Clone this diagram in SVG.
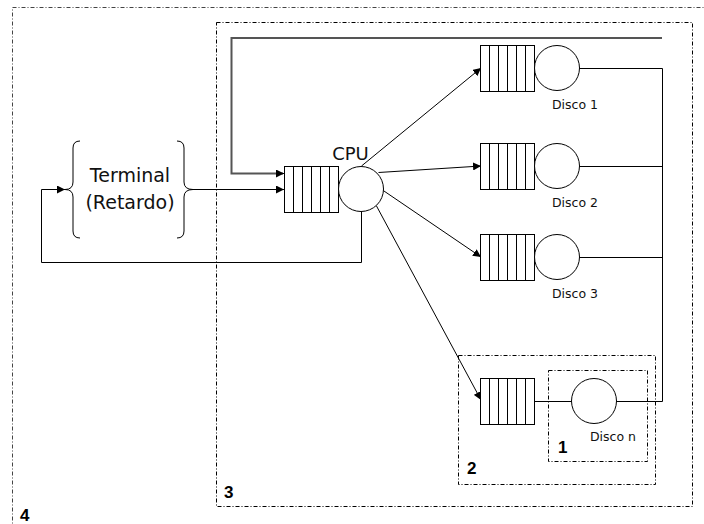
<svg xmlns="http://www.w3.org/2000/svg" width="704" height="524" viewBox="0 0 704 524">
<defs>
<marker id="arr" viewBox="0 0 10 10" refX="10" refY="5" markerWidth="8" markerHeight="8" markerUnits="userSpaceOnUse" orient="auto">
<path d="M0,0 L10,5 L0,10 z" fill="#000"/>
</marker>
<g id="q">
<rect x="0" y="0" width="54" height="46" fill="#fff" stroke="#000" stroke-width="1"/>
<path d="M9,0V46M18,0V46M27,0V46M36,0V46M45,0V46" stroke="#000" stroke-width="1" fill="none"/>
</g>
</defs>
<style>
.box{fill:none;stroke:#000;stroke-width:1;stroke-dasharray:4 2 1 2}
.box4{fill:none;stroke:#444;stroke-width:1;stroke-dasharray:4 2 1 2}
.ln{fill:none;stroke:#000;stroke-width:1}
.srv{fill:#fff;stroke:#000;stroke-width:1}
.t{font-family:"DejaVu Sans",Verdana,sans-serif;fill:#111}
.num{font-family:"Liberation Sans",Arial,sans-serif;font-weight:bold;font-size:17px;fill:#000}
</style>
<rect width="704" height="524" fill="#fff"/>

<g id="box4"><rect class="box4" x="12.5" y="7.5" width="720" height="540"/><text class="num" x="20" y="521">4</text></g>
<g id="box3"><rect class="box" x="216.5" y="22.5" width="476" height="484"/><text class="num" x="224" y="498">3</text></g>
<g id="box2"><rect class="box" x="458.5" y="355.5" width="197" height="129"/><text class="num" x="467" y="474">2</text></g>
<g id="box1"><rect class="box" x="548.5" y="370.5" width="99" height="91"/><text class="num" x="558" y="453">1</text></g>

<g id="connectors">
<path d="M662,38 H231.5 V173.5 H283" fill="none" stroke="#555" stroke-width="2"/>
<path class="ln" d="M283,173.5 H284" marker-end="url(#arr)"/>
<path class="ln" d="M193,189.5 H284" marker-end="url(#arr)"/>
<path class="ln" d="M361.5,211 V262.5 H41.5 V189.5 H65" marker-end="url(#arr)"/>
<path class="ln" d="M361.5,166 L481,68" marker-end="url(#arr)"/>
<path class="ln" d="M378.5,172.5 L481,166" marker-end="url(#arr)"/>
<path class="ln" d="M382.5,190 L481,257" marker-end="url(#arr)"/>
<path class="ln" d="M376.5,206 L481,400" marker-end="url(#arr)"/>
<path class="ln" d="M579,68.5 H662.5 V401.5 H616"/>
<path class="ln" d="M579,166.5 H662.5"/>
<path class="ln" d="M579,257.5 H662.5"/>
<path class="ln" d="M535,401.5 H572"/>
</g>

<g id="terminal">
<path class="ln" d="M80,141 Q73,141 73,148 V182 Q73,189.5 65,189.5 Q73,189.5 73,197 V231 Q73,238 80,238"/>
<path class="ln" d="M177,141 Q184,141 184,148 V182 Q184,189.5 193,189.5 Q184,189.5 184,197 V231 Q184,238 177,238"/>
<text class="t" x="130" y="182" font-size="19" text-anchor="middle">Terminal</text>
<text class="t" x="130" y="209" font-size="19" text-anchor="middle">(Retardo)</text>
</g>

<g id="cpu">
<use href="#q" x="284.5" y="166.5"/>
<circle class="srv" cx="361" cy="189" r="22.5"/>
<text class="t" x="350.5" y="160" font-size="18" text-anchor="middle">CPU</text>
</g>

<g id="disco1">
<use href="#q" x="480.5" y="45.5"/>
<circle class="srv" cx="557" cy="68" r="22.5"/>
<text class="t" x="575" y="109" font-size="12.5" text-anchor="middle">Disco 1</text>
</g>
<g id="disco2">
<use href="#q" x="480.5" y="143.5"/>
<circle class="srv" cx="557" cy="166" r="22.5"/>
<text class="t" x="575" y="207" font-size="12.5" text-anchor="middle">Disco 2</text>
</g>
<g id="disco3">
<use href="#q" x="480.5" y="234.5"/>
<circle class="srv" cx="557" cy="257" r="22.5"/>
<text class="t" x="575" y="298" font-size="12.5" text-anchor="middle">Disco 3</text>
</g>
<g id="discon">
<use href="#q" x="480.5" y="378.5"/>
<circle class="srv" cx="594" cy="401" r="22.5"/>
<text class="t" x="613" y="441" font-size="12.5" text-anchor="middle">Disco n</text>
</g>
</svg>
